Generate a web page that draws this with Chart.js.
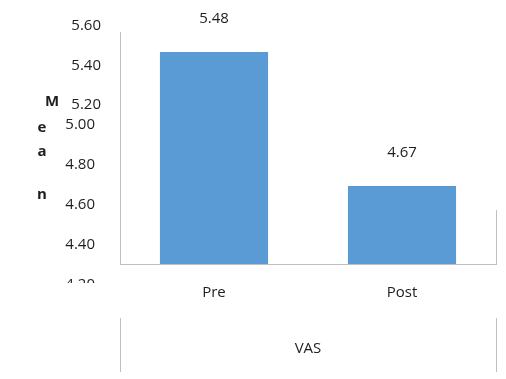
<!DOCTYPE html>
<html>
<head>
<meta charset="utf-8">
<script src="https://cdn.jsdelivr.net/npm/chart.js@4/dist/chart.umd.min.js"></script>
<style>
  html, body { margin: 0; padding: 0; background: #ffffff; }
  #wrap { width: 506px; height: 379px; }
</style>
</head>
<body>
<div id="wrap"><canvas id="c" width="506" height="379"></canvas></div>
<script>
// ---- data ----
const categories = ['Pre', 'Post'];
const groupLabels = ['VAS'];
const meanValues = [5.48, 4.67];
const valueLabels = ['5.48', '4.67'];
const tickLabels = ['5.60', '5.40', '5.20', '5.00', '4.80', '4.60', '4.40', '4.20'];
const axisTitleLetters = ['M', 'e', 'a', 'n'];
const yMin = 4.2, yMax = 5.6;

const BAR = '#5B9BD5';
const AXIS = '#BFBFBF';
const TEXT = '#1e1e1e';
const FONT = "'Open Sans', 'Noto Sans', sans-serif";

Chart.defaults.font.family = FONT;
Chart.defaults.font.size = 15;
Chart.defaults.color = TEXT;

// value labels above bars
const valueLabelPlugin = {
  id: 'valueLabels',
  afterDatasetsDraw(chart) {
    const ctx = chart.ctx;
    const meta = chart.getDatasetMeta(0);
    ctx.save();
    ctx.font = '15px ' + FONT;
    ctx.fillStyle = TEXT;
    ctx.textAlign = 'center';
    ctx.textBaseline = 'middle';
    meta.data.forEach((bar, i) => {
      ctx.fillText(valueLabels[i], bar.x, bar.y - 33);
    });
    ctx.restore();
  }
};

// y tick labels and stacked "Mean" title, laid out as in the source export
const yLabelPlugin = {
  id: 'yLabels',
  afterDraw(chart) {
    const ctx = chart.ctx;
    const a = chart.chartArea;
    const gap = 40;
    ctx.save();
    ctx.beginPath();
    ctx.rect(0, 0, a.left, a.bottom + 19);
    ctx.clip();
    ctx.font = '15px ' + FONT;
    ctx.fillStyle = TEXT;
    ctx.textAlign = 'right';
    ctx.textBaseline = 'middle';
    tickLabels.forEach((t, i) => {
      let x, y;
      if (i < 3) { x = a.left - 19; y = a.top - 6 + i * 39.5; }
      else { x = a.left - 25; y = a.top + 93 + (i - 3) * gap; }
      ctx.fillText(t, x, y);
    });
    ctx.restore();

    ctx.save();
    ctx.font = 'bold 15px ' + FONT;
    ctx.fillStyle = TEXT;
    ctx.textAlign = 'center';
    ctx.textBaseline = 'middle';
    const pos = [[a.left - 68, a.top + 70], [a.left - 78, a.top + 96], [a.left - 78, a.top + 120], [a.left - 78, a.top + 163]];
    axisTitleLetters.forEach((ch, i) => ctx.fillText(ch, pos[i][0], pos[i][1]));
    ctx.restore();
  }
};

new Chart(document.getElementById('c'), {
  type: 'bar',
  data: {
    labels: categories,
    datasets: [{
      data: meanValues,
      backgroundColor: BAR,
      borderWidth: 0,
      barPercentage: 0.575,
      categoryPercentage: 1.0
    }]
  },
  options: {
    responsive: false,
    animation: false,
    devicePixelRatio: 1,
    layout: { padding: { top: 32, right: 10, left: 0, bottom: 7 } },
    plugins: { legend: { display: false }, tooltip: { enabled: false } },
    scales: {
      y: {
        min: yMin, max: yMax,
        ticks: { display: false },
        grid: { display: false },
        border: { display: true, color: AXIS, width: 1 },
        afterFit(s) { s.width = 120; }
      },
      x: {
        weight: 0,
        offset: true,
        ticks: { padding: 74, font: { size: 15 }, color: TEXT },
        grid: {
          offset: true,
          drawOnChartArea: false,
          drawTicks: true,
          tickLength: -54,
          color: (c) => c.index === 1 ? 'rgba(0,0,0,0)' : AXIS
        },
        border: { display: true, color: AXIS, width: 1 },
        afterFit(s) { s.height = 54; }
      },
      vas: {
        type: 'category',
        position: 'bottom',
        weight: 1,
        labels: groupLabels,
        offset: true,
        ticks: { padding: -32, font: { size: 15 }, color: TEXT },
        grid: {
          offset: true,
          drawOnChartArea: false,
          drawTicks: true,
          tickLength: 54,
          color: AXIS
        },
        border: { display: false },
        afterFit(s) { s.height = 54; }
      }
    }
  },
  plugins: [valueLabelPlugin, yLabelPlugin]
});
</script>
</body>
</html>
